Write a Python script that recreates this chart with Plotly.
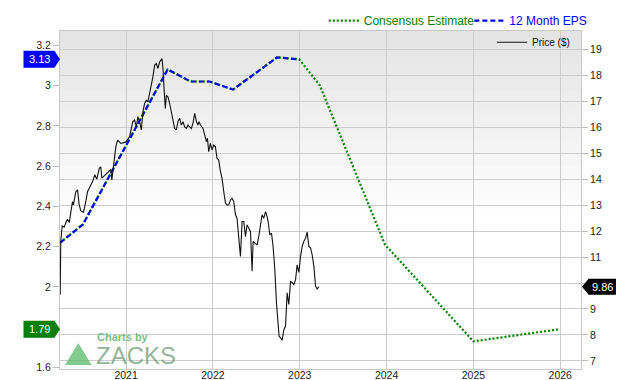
import plotly.graph_objects as go

# ---------------- data ----------------
price_year = [2020.241, 2020.248, 2020.264, 2020.287, 2020.306, 2020.325, 2020.345, 2020.363, 2020.383, 2020.394,
              2020.421, 2020.441, 2020.460, 2020.479, 2020.510, 2020.536, 2020.556, 2020.594, 2020.614, 2020.640,
              2020.663, 2020.691, 2020.709, 2020.721, 2020.749, 2020.787, 2020.825, 2020.836, 2020.856, 2020.882,
              2020.902, 2020.940, 2020.994, 2021.040, 2021.078, 2021.098, 2021.118, 2021.136, 2021.156, 2021.175,
              2021.194, 2021.213, 2021.233, 2021.251, 2021.271, 2021.291, 2021.309, 2021.329, 2021.348, 2021.367,
              2021.386, 2021.413, 2021.424, 2021.436, 2021.452, 2021.464, 2021.482, 2021.502, 2021.521, 2021.540,
              2021.559, 2021.579, 2021.597, 2021.617, 2021.637, 2021.655, 2021.675, 2021.694, 2021.713, 2021.732,
              2021.752, 2021.770, 2021.790, 2021.810, 2021.828, 2021.840, 2021.856, 2021.886, 2021.905, 2021.925,
              2021.937, 2021.952, 2021.971, 2021.990, 2022.009, 2022.029, 2022.047, 2022.067, 2022.087, 2022.105,
              2022.125, 2022.144, 2022.163, 2022.182, 2022.202, 2022.220, 2022.240, 2022.260, 2022.278, 2022.298,
              2022.317, 2022.336, 2022.355, 2022.375, 2022.393, 2022.413, 2022.433, 2022.451, 2022.463, 2022.482,
              2022.509, 2022.528, 2022.548, 2022.566, 2022.586, 2022.606, 2022.624, 2022.636, 2022.655, 2022.675,
              2022.693, 2022.713, 2022.732, 2022.751, 2022.762, 2022.782, 2022.797, 2022.817, 2022.836, 2022.855,
              2022.874, 2022.894, 2022.912, 2022.932, 2022.952, 2022.970, 2022.990, 2023.009, 2023.028, 2023.047,
              2023.067, 2023.085, 2023.105, 2023.125, 2023.143, 2023.163, 2023.182, 2023.201, 2023.220]
price = [9.55, 11.60, 12.20, 12.15, 12.32, 12.46, 12.33, 12.75, 13.14, 13.01,
         13.52, 13.59, 13.01, 12.78, 12.73, 13.14, 13.52, 13.78, 13.91, 14.17,
         14.00, 14.42, 14.48, 14.04, 14.13, 14.23, 14.38, 13.97, 14.62, 15.25,
         15.51, 15.38, 15.43, 15.64, 16.22, 16.28, 16.02, 16.41, 16.22, 15.90,
         16.60, 16.92, 17.05, 16.98, 17.31, 17.63, 17.95, 18.40, 18.46, 18.27,
         18.52, 18.65, 18.33, 17.56, 16.73, 17.24, 17.18, 16.92, 16.60, 16.28,
         15.96, 15.90, 16.22, 16.35, 16.09, 16.22, 16.02, 15.96, 16.09, 16.02,
         15.96, 16.15, 16.54, 16.22, 16.09, 16.22, 16.09, 15.96, 15.64, 15.45,
         15.58, 15.06, 15.38, 15.13, 15.32, 15.25, 14.81, 14.74, 14.29, 14.04,
         13.52, 13.08, 13.01, 13.01, 13.20, 13.27, 13.14, 12.63, 12.50, 11.79,
         11.02, 12.37, 12.37, 11.79, 12.24, 12.12, 11.98, 10.45, 11.60, 11.54,
         11.47, 11.79, 12.24, 12.63, 12.50, 12.75, 12.56, 12.37, 11.86, 11.92,
         11.41, 10.51, 9.23, 8.33, 7.95, 7.88, 7.79, 8.20, 8.33, 9.62,
         9.17, 10.06, 10.02, 9.93, 10.13, 10.70, 10.41, 11.02, 11.41, 11.60,
         11.73, 11.96, 11.41, 11.35, 11.09, 10.64, 9.87, 9.77, 9.86]

eps_year = [2020.241, 2020.502, 2021.479, 2021.744, 2021.963, 2022.232, 2022.739, 2022.995]
eps = [2.22, 2.31, 3.08, 3.02, 3.02, 2.98, 3.14, 3.13]

cons_year = eps_year + [2023.232, 2023.982, 2025.000, 2025.988]
cons = eps + [3.00, 2.21, 1.73, 1.79]

year_ticks = [2021, 2022, 2023, 2024, 2025, 2026]
eps_ticks = [1.6, 1.8, 2.0, 2.2, 2.4, 2.6, 2.8, 3.0, 3.2]
price_ticks = [7, 8, 9, 10, 11, 12, 13, 14, 15, 16, 17, 18, 19]

# ---------------- styling ----------------
GREEN = "#008000"
BLUE = "#0000ff"
FONT = "Liberation Sans, Arial, sans-serif"
GRID = "#cccccc"
EPS_RANGE = [1.5928, 3.2708]
PRICE_RANGE = [6.685, 19.715]


def fmt(v):
    return f"{v:g}"


# tick labels that sit under a value badge are hidden (as in the reference)
eps_badges = [eps[-1], cons[-1]]
eps_ticktext = ["" if any(abs(v - b) < 0.06 for b in eps_badges) else fmt(v) for v in eps_ticks]
price_ticktext = ["" if abs(v - price[-1]) < 0.45 else fmt(v) for v in price_ticks]

fig = go.Figure()

fig.add_trace(go.Scatter(
    x=cons_year, y=cons, mode="lines", yaxis="y",
    name=f'<span style="color:{GREEN}">Consensus Estimate</span>',
    line=dict(color=GREEN, width=2.2, dash="2px,2px"),
    legend="legend", hoverinfo="skip"))

fig.add_trace(go.Scatter(
    x=eps_year, y=eps, mode="lines", yaxis="y",
    name=f'<span style="color:{BLUE}">12 Month EPS</span>',
    line=dict(color=BLUE, width=2.2, dash="5px,3px"),
    legend="legend3", hoverinfo="skip"))

fig.add_trace(go.Scatter(
    x=price_year, y=price, mode="lines", yaxis="y2",
    name="Price ($)",
    line=dict(color="#111111", width=1.1),
    legend="legend2", hoverinfo="skip"))

# gradient plot background (grey at top fading to white)
shapes = []
n = 40
for i in range(n):
    f0 = i / n
    f1 = (i + 1) / n
    t = min(1.0, (1 - f1) / 0.55)
    g = int(round(228 + (255 - 228) * t))
    shapes.append(dict(type="rect", xref="paper", yref="paper", x0=0, x1=1,
                       y0=f0, y1=f1 + 0.002, line=dict(width=0),
                       fillcolor=f"rgb({g},{g},{g})", layer="below"))

annotations = []


def left_badge(value, color):
    shapes.append(dict(type="path", xref="paper", yref="y", xsizemode="pixel", ysizemode="pixel",
                       xanchor=0, yanchor=value,
                       path="M 0 0 L -5.5 8.5 L -36.5 8.5 L -36.5 -8.5 L -5.5 -8.5 Z",
                       fillcolor=color, line=dict(width=0), layer="above"))
    annotations.append(dict(x=0, xref="paper", y=value, yref="y", xanchor="center", yanchor="middle",
                            xshift=-21, text=f"{value:.2f}", showarrow=False,
                            font=dict(family=FONT, size=11, color="white")))


left_badge(eps[-1], BLUE)
left_badge(cons[-1], GREEN)

# right price badge
shapes.append(dict(type="path", xref="paper", yref="y2", xsizemode="pixel", ysizemode="pixel",
                   xanchor=1, yanchor=price[-1],
                   path="M 1 0 L 7.6 8 L 35 8 L 35 -8 L 7.6 -8 Z",
                   fillcolor="black", line=dict(width=0), layer="above"))
annotations.append(dict(x=1, xref="paper", y=price[-1], yref="y2", xanchor="center", yanchor="middle",
                        xshift=21.5, text=f"{price[-1]:.2f}", showarrow=False,
                        font=dict(family=FONT, size=11, color="white")))

# Zacks watermark
shapes.append(dict(type="path", xref="paper", yref="paper", xsizemode="pixel", ysizemode="pixel",
                   xanchor=0, yanchor=0,
                   path="M 5 4 L 31.7 4 L 18.3 26 Z",
                   fillcolor="rgba(90,185,105,0.75)", line=dict(width=0), layer="above"))
annotations.append(dict(x=0, xref="paper", y=0, yref="paper", xanchor="left", yanchor="middle",
                        xshift=36, yshift=32, text="<b>Charts by</b>", showarrow=False, borderpad=0,
                        font=dict(family=FONT, size=11, color="rgba(95,178,110,0.85)")))
annotations.append(dict(x=0, xref="paper", y=0, yref="paper", xanchor="left", yanchor="middle",
                        xshift=35, yshift=14, text="ZACKS", showarrow=False, borderpad=0,
                        font=dict(family=FONT, size=24, color="rgba(110,155,118,0.75)")))

legend_common = dict(orientation="h", bgcolor="rgba(0,0,0,0)", itemwidth=30,
                     font=dict(family=FONT, size=12))

fig.update_layout(
    width=640, height=380,
    margin=dict(l=60, r=59, t=31, b=11, autoexpand=False),
    paper_bgcolor="white", plot_bgcolor="white",
    font=dict(family=FONT, size=10.5, color="#222222"),
    showlegend=True,
    legend=dict(x=0.5063, xanchor="left", y=1.0305, yanchor="middle", **legend_common),
    legend3=dict(x=0.7857, xanchor="left", y=1.0305, yanchor="middle", **legend_common),
    legend2=dict(orientation="h", x=0.9885, xanchor="right", y=1.0098, yanchor="top",
                 bgcolor="rgba(0,0,0,0)", font=dict(family=FONT, size=10, color="#111")),
    xaxis=dict(range=[2020.239, 2026.239], tickvals=year_ticks, ticktext=[str(v) for v in year_ticks],
               showgrid=True, gridcolor=GRID, gridwidth=1, zeroline=False,
               showline=True, linecolor="#c8c8c8", mirror=True, ticks="",
               ticklabelstandoff=-4,
               tickfont=dict(size=10.5, color="#222"), automargin=False),
    yaxis=dict(range=EPS_RANGE, tickvals=eps_ticks, ticktext=eps_ticktext, showgrid=False, zeroline=False,
               showline=True, linecolor="#c8c8c8", ticks="outside", ticklen=6, tickcolor="#bbbbbb",
               tickfont=dict(size=10.5, color="#222"), automargin=False),
    yaxis2=dict(range=PRICE_RANGE, tickvals=price_ticks, ticktext=price_ticktext,
                overlaying="y", side="right",
                showgrid=True, gridcolor=GRID, gridwidth=1, zeroline=False,
                showline=True, linecolor="#c8c8c8", ticks="outside", ticklen=6, tickcolor="#bbbbbb",
                tickfont=dict(size=10.5, color="#222"), automargin=False),
    shapes=shapes,
    annotations=annotations,
)

fig.write_html("out.html")
